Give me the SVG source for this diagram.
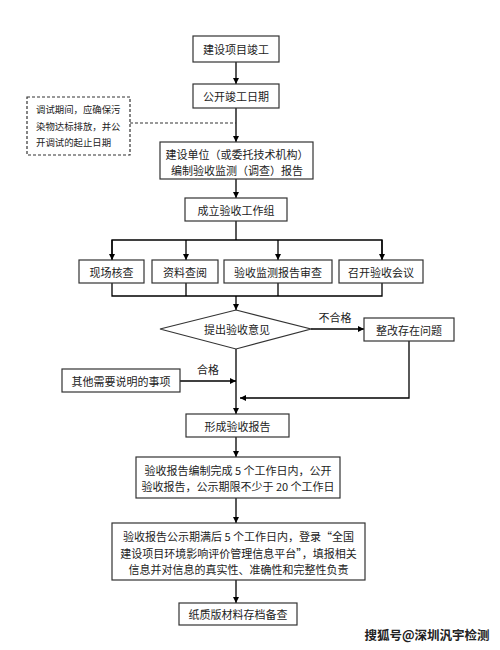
<svg xmlns="http://www.w3.org/2000/svg" width="500" height="650" viewBox="0 0 500 650">
<defs>
<marker id="arr" viewBox="0 0 10 10" refX="10" refY="5" markerWidth="6" markerHeight="6" markerUnits="userSpaceOnUse" orient="auto">
<path d="M0,0 L10,5 L0,10 z" fill="#000"/>
</marker>
<style>
.box{fill:#fff;stroke:#333;stroke-width:1.2}
.t{font-family:"Noto Sans CJK SC","Liberation Serif",serif;font-size:11px;fill:#222;text-anchor:middle;dominant-baseline:central}
.tl{font-family:"Noto Sans CJK SC","Liberation Serif",serif;font-size:9.4px;fill:#222;dominant-baseline:central}
.ln{fill:none;stroke:#000;stroke-width:1.3}
.dash{fill:none;stroke:#333;stroke-width:1.2;stroke-dasharray:3,2}
</style>
</defs>
<rect width="500" height="650" fill="#fff"/>
<g id="connectors">
<line class="ln" x1="236" y1="62" x2="236" y2="84" marker-end="url(#arr)"/>
<line class="ln" x1="236" y1="108" x2="236" y2="142" marker-end="url(#arr)"/>
<line class="dash" x1="130" y1="123" x2="236" y2="123"/>
<line class="ln" x1="236" y1="179" x2="236" y2="198" marker-end="url(#arr)"/>
<polyline class="ln" points="236,221 236,240"/>
<polyline class="ln" points="112,260 112,240 382,240 382,260"/>
<line class="ln" x1="112" y1="240" x2="112" y2="260" marker-end="url(#arr)"/>
<line class="ln" x1="186" y1="240" x2="186" y2="260" marker-end="url(#arr)"/>
<line class="ln" x1="278" y1="240" x2="278" y2="260" marker-end="url(#arr)"/>
<line class="ln" x1="382" y1="240" x2="382" y2="260" marker-end="url(#arr)"/>
<polyline class="ln" points="112,283 112,296 382,296 382,283"/>
<line class="ln" x1="186" y1="283" x2="186" y2="296"/>
<line class="ln" x1="278" y1="283" x2="278" y2="296"/>
<line class="ln" x1="236" y1="296" x2="236" y2="310" marker-end="url(#arr)"/>
<line class="ln" x1="311" y1="329" x2="364" y2="329" marker-end="url(#arr)"/>
<text class="t" x="335" y="317">不合格</text>
<line class="ln" x1="236" y1="349" x2="236" y2="414" marker-end="url(#arr)"/>
<text class="t" x="208" y="369">合格</text>
<line class="ln" x1="180" y1="381" x2="236" y2="381" marker-end="url(#arr)"/>
<polyline class="ln" points="409,341 409,398 240,398" marker-end="url(#arr)"/>
<line class="ln" x1="236" y1="437" x2="236" y2="457" marker-end="url(#arr)"/>
<line class="ln" x1="236" y1="498" x2="236" y2="523" marker-end="url(#arr)"/>
<line class="ln" x1="236" y1="580" x2="236" y2="603" marker-end="url(#arr)"/>
</g>
<g id="n1"><rect class="box" x="193" y="36" width="86" height="26"/><text class="t" x="236" y="49">建设项目竣工</text></g>
<g id="n2"><rect class="box" x="193" y="84" width="86" height="24"/><text class="t" x="236" y="96">公开竣工日期</text></g>
<g id="note"><rect class="dash" x="27" y="97" width="103" height="58"/>
<text class="tl" x="36" y="109">调试期间，应确保污</text>
<text class="tl" x="36" y="126">染物达标排放，并公</text>
<text class="tl" x="36" y="142">开调试的起止日期</text></g>
<g id="n3"><rect class="box" x="160" y="142" width="153" height="37"/><text class="t" x="237" y="154">建设单位（或委托技术机构）</text><text class="t" x="237" y="170">编制验收监测（调查）报告</text></g>
<g id="n4"><rect class="box" x="185" y="198" width="102" height="23"/><text class="t" x="236" y="209.5">成立验收工作组</text></g>
<g id="n5"><rect class="box" x="79" y="260" width="65" height="23"/><text class="t" x="111.5" y="271.5">现场核查</text></g>
<g id="n6"><rect class="box" x="152" y="260" width="66" height="23"/><text class="t" x="185" y="271.5">资料查阅</text></g>
<g id="n7"><rect class="box" x="224" y="260" width="108" height="23"/><text class="t" x="278" y="271.5">验收监测报告审查</text></g>
<g id="n8"><rect class="box" x="339" y="260" width="84" height="23"/><text class="t" x="381" y="271.5">召开验收会议</text></g>
<g id="n9"><polygon class="box" points="236,310 311,329 236,349 160,329"/><text class="t" x="237" y="329">提出验收意见</text></g>
<g id="n10"><rect class="box" x="364" y="318" width="90" height="23"/><text class="t" x="409" y="329.5">整改存在问题</text></g>
<g id="n11"><rect class="box" x="62" y="369" width="118" height="23"/><text class="t" x="121" y="380.5">其他需要说明的事项</text></g>
<g id="n12"><rect class="box" x="186" y="414" width="103" height="23"/><text class="t" x="237.5" y="425.5">形成验收报告</text></g>
<g id="n13"><rect class="box" x="136" y="457" width="204" height="41"/><text class="t" x="238" y="470">验收报告编制完成 5 个工作日内，公开</text><text class="t" x="238" y="486">验收报告，公示期限不少于 20 个工作日</text></g>
<g id="n14"><rect class="box" x="112" y="523" width="253" height="57"/><text class="t" x="238.5" y="536">验收报告公示期满后 5 个工作日内，登录“全国</text><text class="t" x="238.5" y="553">建设项目环境影响评价管理信息平台”，填报相关</text><text class="t" x="238.5" y="569">信息并对信息的真实性、准确性和完整性负责</text></g>
<g id="n15"><rect class="box" x="179" y="603" width="118" height="22"/><text class="t" x="238" y="614">纸质版材料存档备查</text></g>
<text x="427" y="634" font-family="Noto Sans CJK SC, sans-serif" font-size="12.5" font-weight="bold" fill="#222" text-anchor="middle" dominant-baseline="central">搜狐号@深圳汎宇检测</text>
</svg>
